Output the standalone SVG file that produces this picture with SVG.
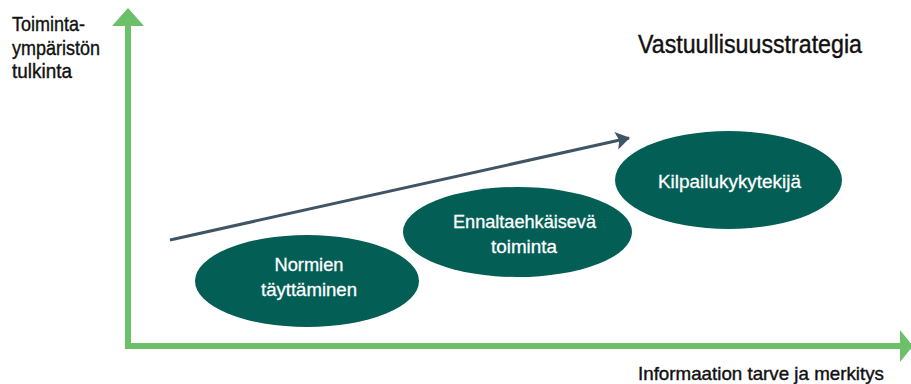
<svg xmlns="http://www.w3.org/2000/svg" width="911" height="384" viewBox="0 0 911 384">
<style>
.lbl{font-family:"Liberation Sans","Arial",sans-serif;fill:#111;stroke:#111;stroke-width:0.4px;}
.in{font-family:"Liberation Sans","Arial",sans-serif;fill:#ffffff;stroke:#ffffff;stroke-width:0.3px;font-size:18.5px;text-anchor:middle;}
.ell{fill:#035e55;}
.axis{stroke:#6cc06a;stroke-width:6;fill:none;}
</style>
<defs>
<marker id="dk" viewBox="0 0 14 18" refX="13" refY="9" markerWidth="14" markerHeight="18" markerUnits="userSpaceOnUse" orient="auto">
<path d="M0,0 L14,9 L0,18 L3,9 Z" fill="#3f5566"/>
</marker>
</defs>
<rect width="911" height="384" fill="#ffffff"/>
<g id="connectors">
<path class="axis" d="M128,348 V22"/>
<path d="M128,8 L144,26 L112,26 Z" fill="#6cc06a"/>
<path class="axis" d="M125,346 H903"/>
<path d="M913,346 L900,330 L900,362 Z" fill="#6cc06a"/>
<path d="M170,240 L629,138" stroke="#3f5566" stroke-width="3" fill="none" marker-end="url(#dk)"/>
</g>
<g id="n1">
<ellipse class="ell" cx="307" cy="281" rx="112" ry="46"/>
<text class="in" x="309" y="271" textLength="69" lengthAdjust="spacingAndGlyphs">Normien</text>
<text class="in" x="309" y="296" textLength="96" lengthAdjust="spacingAndGlyphs">täyttäminen</text>
</g>
<g id="n2">
<ellipse class="ell" cx="517.5" cy="232" rx="114.5" ry="45"/>
<text class="in" x="524.5" y="228" textLength="143" lengthAdjust="spacingAndGlyphs">Ennaltaehkäisevä</text>
<text class="in" x="524" y="253" textLength="66" lengthAdjust="spacingAndGlyphs">toiminta</text>
</g>
<g id="n3">
<ellipse class="ell" cx="728.5" cy="180" rx="113.5" ry="49"/>
<text class="in" x="729.5" y="188" textLength="143" lengthAdjust="spacingAndGlyphs">Kilpailukykytekijä</text>
</g>
<g id="title">
<text class="lbl" x="638" y="53" font-size="25" textLength="224" lengthAdjust="spacingAndGlyphs">Vastuullisuusstrategia</text>
</g>
<g id="ylabel">
<text class="lbl" x="12" y="31" font-size="21" textLength="73" lengthAdjust="spacingAndGlyphs">Toiminta-</text>
<text class="lbl" x="12" y="55" font-size="21" textLength="88" lengthAdjust="spacingAndGlyphs">ympäristön</text>
<text class="lbl" x="12" y="78" font-size="21" textLength="60" lengthAdjust="spacingAndGlyphs">tulkinta</text>
</g>
<g id="xlabel">
<text class="lbl" x="638" y="380" font-size="18.5" textLength="246" lengthAdjust="spacingAndGlyphs">Informaation tarve ja merkitys</text>
</g>
</svg>
